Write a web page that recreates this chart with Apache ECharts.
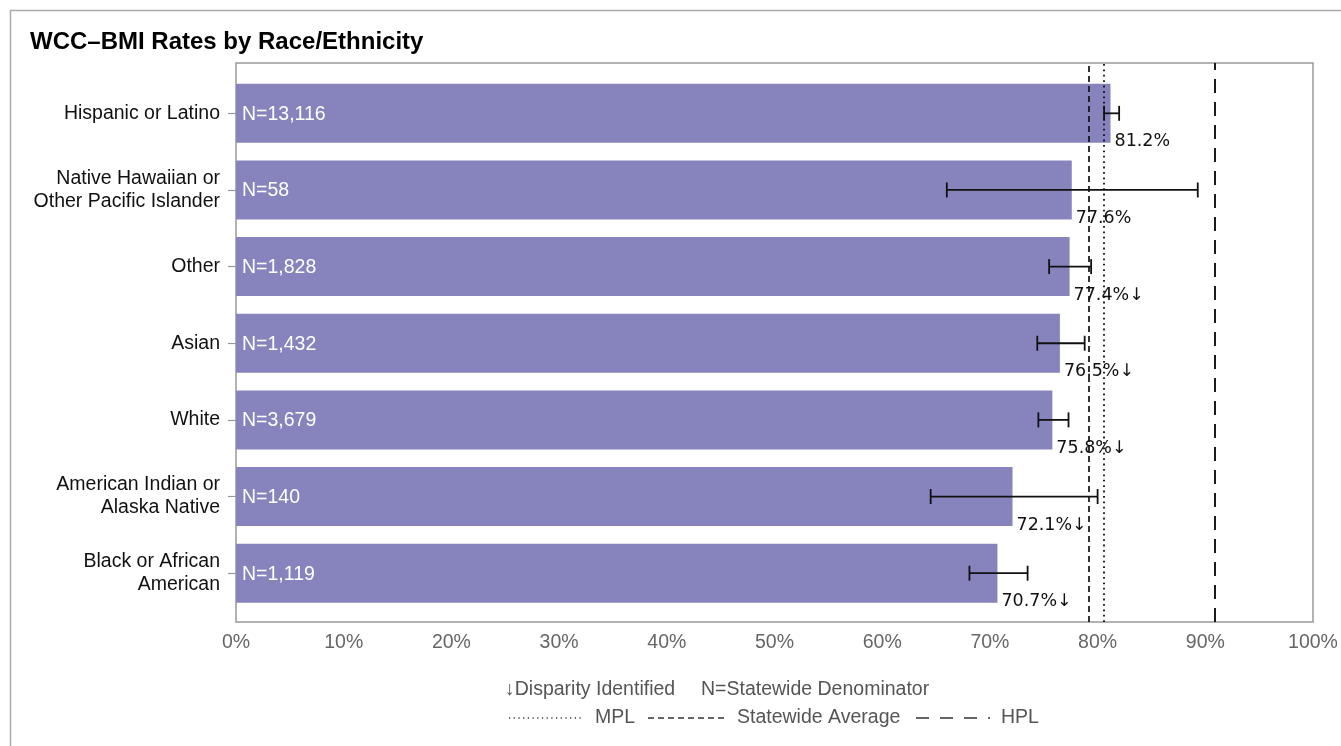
<!DOCTYPE html>
<html>
<head>
<meta charset="utf-8">
<script src="https://cdn.jsdelivr.net/npm/echarts@6/dist/echarts.min.js"></script>
<style>
  html, body { margin: 0; padding: 0; background: #fff; }
  #chart { width: 1341px; height: 746px; }
</style>
</head>
<body>
<div id="chart"></div>
<script>
// data
const categories = [
  'Hispanic or Latino',
  'Native Hawaiian or\nOther Pacific Islander',
  'Other',
  'Asian',
  'White',
  'American Indian or\nAlaska Native',
  'Black or African\nAmerican'
]
const rates = [81.2, 77.6, 77.4, 76.5, 75.8, 72.1, 70.7]
const denominators = ['13,116', '58', '1,828', '1,432', '3,679', '140', '1,119']
const ciLow = [80.6, 66.0, 75.5, 74.4, 74.5, 64.5, 68.1]
const ciHigh = [82.0, 89.3, 79.4, 78.8, 77.3, 80.0, 73.5]
const disparity = [false, false, true, true, true, true, true]
const mpl = 80.6
const statewideAvg = 79.2
const hpl = 90.9

const sans = '"Liberation Sans", Arial, sans-serif'
const fs = 19.5
const barColor = '#8683bd'
const barShare = 0.77

const chart = echarts.init(document.getElementById('chart'))

const errorData = rates.map((r, i) => [r, i, ciLow[i], ciHigh[i]])

function renderError(params, api) {
  const i = params.dataIndex
  const y = api.value(1)
  const lo = api.coord([api.value(2), y])
  const hi = api.coord([api.value(3), y])
  const end = api.coord([api.value(0), y])
  const band = api.size([0, 1])[1]
  const barH = band * barShare
  const cap = 7.5
  const stroke = { stroke: '#111', lineWidth: 1.8 }
  return {
    type: 'group',
    children: [
      { type: 'line', shape: { x1: lo[0], y1: lo[1], x2: hi[0], y2: hi[1] }, style: stroke },
      { type: 'line', shape: { x1: lo[0], y1: lo[1] - cap, x2: lo[0], y2: lo[1] + cap }, style: stroke },
      { type: 'line', shape: { x1: hi[0], y1: hi[1] - cap, x2: hi[0], y2: hi[1] + cap }, style: stroke },
      {
        type: 'text',
        x: end[0] + 4,
        y: end[1] + barH / 2 - 1,
        style: {
          text: rates[i].toFixed(1) + '%' + (disparity[i] ? '↓' : ''),
          fill: '#111',
          font: '17.5px "DejaVu Sans", sans-serif',
          verticalAlign: 'middle',
          align: 'left'
        }
      }
    ]
  }
}

// legend drawn by hand
const legendY1 = 690
const legendY2 = 718
const legendText = { fill: '#555', font: fs + 'px ' + sans, verticalAlign: 'middle' }
const legendLine = (x1, x2, dash, lw) => ({
  type: 'line',
  shape: { x1: x1, y1: legendY2, x2: x2, y2: legendY2 },
  style: { stroke: '#333', lineWidth: lw, lineDash: dash }
})

let option = {
  backgroundColor: '#fff',
  animation: false,
  title: {
    text: 'WCC–BMI Rates by Race/Ethnicity',
    left: 25,
    top: 25,
    textStyle: { fontFamily: sans, fontSize: 24, fontWeight: 'bold', color: '#000' }
  },
  grid: [
    // bars
    { left: 236, right: 28, top: 75, bottom: 134.5, show: false },
    // plot frame, reference lines and percent axis
    { left: 236, right: 28, top: 63, bottom: 124, show: true, borderColor: '#999', borderWidth: 1.5 }
  ],
  xAxis: [
    {
      gridIndex: 0, type: 'value', min: 0, max: 100, interval: 10,
      axisLine: { show: false }, axisTick: { show: false },
      splitLine: { show: false }, axisLabel: { show: false }
    },
    {
      gridIndex: 1, type: 'value', min: 0, max: 100, interval: 10,
      axisLine: { show: false }, axisTick: { show: false }, splitLine: { show: false },
      axisLabel: {
        formatter: '{value}%',
        color: '#666',
        fontFamily: sans,
        fontSize: fs,
        margin: 11
      }
    }
  ],
  yAxis: [
    {
      gridIndex: 0,
      type: 'category',
      inverse: true,
      data: categories,
      axisLine: { show: false },
      axisTick: { show: true, length: 8, lineStyle: { color: '#999', width: 1.2 }, alignWithLabel: true },
      axisLabel: {
        color: '#111',
        fontFamily: sans,
        fontSize: fs,
        lineHeight: 23,
        margin: 16
      }
    },
    {
      gridIndex: 1, type: 'value', min: 0, max: 1, show: false
    }
  ],
  series: [
    {
      name: 'Rate',
      type: 'bar',
      xAxisIndex: 0,
      yAxisIndex: 0,
      data: rates,
      barCategoryGap: '23%',
      itemStyle: { color: barColor },
      label: {
        show: true,
        position: 'insideLeft',
        offset: [1, 1],
        color: '#fff',
        fontFamily: sans,
        fontSize: fs,
        formatter: (p) => 'N=' + denominators[p.dataIndex]
      }
    },
    {
      name: 'Lines',
      type: 'line',
      xAxisIndex: 1,
      yAxisIndex: 1,
      data: [],
      z: 5,
      markLine: {
        silent: true,
        symbol: ['none', 'none'],
        label: { show: false },
        data: [
          { xAxis: mpl, lineStyle: { color: '#111', width: 1.8, type: [1.8, 3.6] } },
          { xAxis: statewideAvg, lineStyle: { color: '#111', width: 1.7, type: [6, 4] } },
          { xAxis: hpl, lineStyle: { color: '#111', width: 1.9, type: [14, 9] } }
        ]
      }
    },
    {
      name: 'CI',
      type: 'custom',
      xAxisIndex: 0,
      yAxisIndex: 0,
      renderItem: renderError,
      data: errorData,
      encode: { x: [0, 2, 3], y: 1 },
      z: 10,
      silent: true
    }
  ],
  graphic: [
    {
      type: 'rect',
      shape: { x: 10.5, y: 10.5, width: 1340, height: 740 },
      style: { fill: 'none', stroke: '#aaa', lineWidth: 1.5 },
      silent: true
    },
    { type: 'text', x: 505, y: legendY1, style: Object.assign({ text: '↓Disparity Identified' }, legendText) },
    { type: 'text', x: 701, y: legendY1, style: Object.assign({ text: 'N=Statewide Denominator' }, legendText) },
    legendLine(509, 582, [1.2, 3.5], 1.3),
    { type: 'text', x: 595, y: legendY2, style: Object.assign({ text: 'MPL' }, legendText) },
    legendLine(648, 726, [6, 4], 1.6),
    { type: 'text', x: 737, y: legendY2, style: Object.assign({ text: 'Statewide Average' }, legendText) },
    legendLine(916, 990, [13, 11], 1.6),
    { type: 'text', x: 1001, y: legendY2, style: Object.assign({ text: 'HPL' }, legendText) }
  ]
}

chart.setOption(option)
</script>
</body>
</html>
